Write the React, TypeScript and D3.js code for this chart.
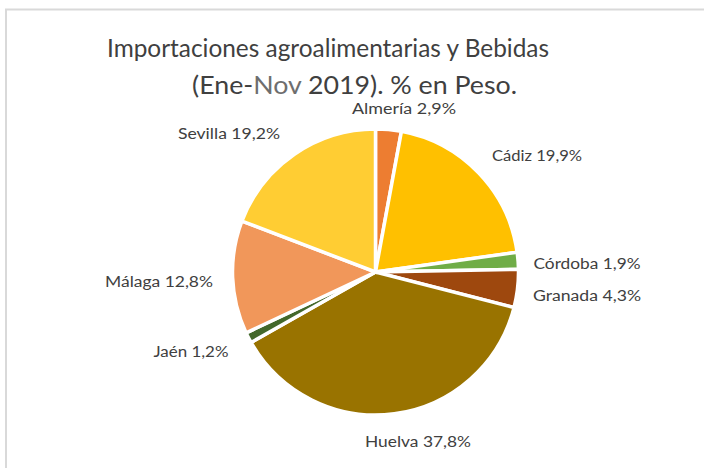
import React from "react";
import * as d3 from "d3";

const categories = ["Almería", "Cádiz", "Córdoba", "Granada", "Huelva", "Jaén", "Málaga", "Sevilla"];
const values = [2.9, 19.9, 1.9, 4.3, 37.8, 1.2, 12.8, 19.2];
const valueLabels = ["2,9%", "19,9%", "1,9%", "4,3%", "37,8%", "1,2%", "12,8%", "19,2%"];
const colors = ["#ED7D31", "#FFC000", "#70AD47", "#9E480E", "#997300", "#43682B", "#F1975A", "#FFCD33"];
// label placement: [center x, baseline y, text width]
const labelPos: [number, number, number][] = [
  [404, 114, 104],
  [537, 161, 90],
  [587, 269, 107],
  [587, 301, 108],
  [418, 447, 106],
  [191, 357, 75],
  [159, 287, 108],
  [229, 139, 102],
];
const titleLine1 = "Importaciones agroalimentarias y Bebidas";

const W = 704;
const H = 468;
const cx = 375.5;
const cy = 272;
const R = 143;

export default function App() {
  const pie = d3.pie<number>().sort(null).value((d) => d)(values);
  const arc = d3.arc<d3.PieArcDatum<number>>().innerRadius(0).outerRadius(R);
  const font = "Lato, 'Open Sans', sans-serif";
  return (
    <svg width={W} height={H} style={{ position: "absolute", left: 0, top: 0, background: "#fff" }}>
      <rect x={6} y={9.5} width={720} height={480} fill="#fff" stroke="#D9D9D9" strokeWidth={2} />
      <text x={107} y={57} fontFamily={font} fontSize={25.5} fill="#404040" textLength={442} lengthAdjust="spacingAndGlyphs">
        {titleLine1}
      </text>
      <text x={192} y={94} fontFamily={font} fontSize={25.5} fill="#404040" textLength={325} lengthAdjust="spacingAndGlyphs">
        <tspan>(Ene-</tspan>
        <tspan fill="#6E6E6E">Nov</tspan>
        <tspan> 2019). % en Peso.</tspan>
      </text>
      <g transform={`translate(${cx},${cy})`}>
        {pie.map((p, i) => (
          <path key={categories[i]} d={arc(p) || ""} fill={colors[i]} stroke="#fff" strokeWidth={3.5} strokeLinejoin="miter" />
        ))}
      </g>
      {pie.map((p, i) => {
        const [x, y, w] = labelPos[i];
        return (
          <text
            key={"l" + i}
            x={x - w / 2}
            y={y}
            fontFamily={font}
            fontSize={15.5}
            fill="#404040"
            textLength={w}
            lengthAdjust="spacingAndGlyphs"
          >
            {categories[i] + " " + valueLabels[i]}
          </text>
        );
      })}
    </svg>
  );
}
